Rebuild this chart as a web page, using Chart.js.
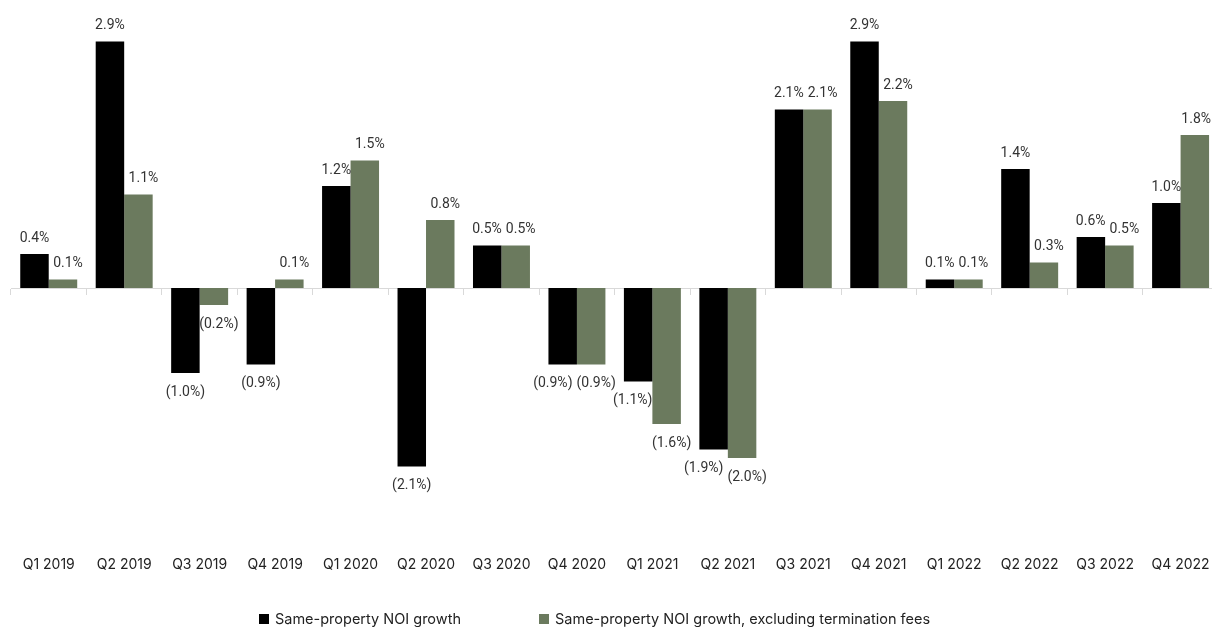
<!DOCTYPE html>
<html>
<head>
<meta charset="utf-8">
<script src="https://cdn.jsdelivr.net/npm/chart.js@4.4.1/dist/chart.umd.min.js"></script>
<style>
    html, body { margin: 0; padding: 0; background: #fff; overflow: hidden; }
    #wrap { position: relative; width: 1230px; height: 627px; }
    #legend {
        position: absolute; left: 0; top: 610px; width: 1189px;
        display: flex; justify-content: center; gap: 78px;
        font-family: Inter, sans-serif; font-size: 14.5px; color: #222;
    }
    #legend span.item { display: flex; align-items: center; }
    #legend i { display: inline-block; width: 10px; height: 10px; margin-right: 6px; }
</style>
</head>
<body>
<div id="wrap">
    <canvas id="chart"></canvas>
</div>
<div id="legend"></div>
<script>
const quarters = ["Q1 2019", "Q2 2019", "Q3 2019", "Q4 2019", "Q1 2020", "Q2 2020", "Q3 2020", "Q4 2020",
    "Q1 2021", "Q2 2021", "Q3 2021", "Q4 2021", "Q1 2022", "Q2 2022", "Q3 2022", "Q4 2022"];
const noiGrowth = [0.4, 2.9, -1.0, -0.9, 1.2, -2.1, 0.5, -0.9, -1.1, -1.9, 2.1, 2.9, 0.1, 1.4, 0.6, 1.0];
const noiGrowthExFees = [0.1, 1.1, -0.2, 0.1, 1.5, 0.8, 0.5, -0.9, -1.6, -2.0, 2.1, 2.2, 0.1, 0.3, 0.5, 1.8];
const seriesNames = ["Same-property NOI growth", "Same-property NOI growth, excluding termination fees"];
const seriesColors = ["#000000", "#6b7a5e"];

const chartCanvas = document.getElementById("chart");
const legendBox = document.getElementById("legend");
const visibleWidth = 1212;

function fmt(v) {
    return v < 0 ? `(${Math.abs(v).toFixed(1)}%)` : `${v.toFixed(1)}%`;
}

// value labels above / below each bar, negatives in parentheses
const barLabels = {
    id: "barLabels",
    afterDatasetsDraw(chart) {
        const ctx = chart.ctx;
        ctx.save();
        ctx.font = "14px Roboto, sans-serif";
        ctx.fillStyle = "#333";
        ctx.textAlign = "center";
        ctx.textBaseline = "middle";
        const black = chart.getDatasetMeta(0).data;
        const green = chart.getDatasetMeta(1).data;
        const a = chart.data.datasets[0].data;
        const b = chart.data.datasets[1].data;
        a.forEach((v, j) => {
            const bar1 = black[j], bar2 = green[j];
            const t1 = fmt(v), t2 = fmt(b[j]);
            const w1 = ctx.measureText(t1).width, w2 = ctx.measureText(t2).width;
            const y1 = v < 0 ? bar1.y + 19 : bar1.y - 16;
            const y2 = b[j] < 0 ? bar2.y + 19 : bar2.y - 16;
            let x1 = bar1.x;
            let x2 = Math.min(bar2.x + 5, visibleWidth - 1 - w2 / 2);
            // keep the black label off the green bar
            if (v < 0 && b[j] < 0 && bar2.y > y1 - 12) {
                x1 = Math.min(x1, bar2.x - bar2.width / 2 - w1 / 2);
            }
            // and off the green label
            if (Math.abs(y1 - y2) < 14 && x1 + w1 / 2 + 4 > x2 - w2 / 2) {
                x1 = x2 - w2 / 2 - 4 - w1 / 2;
            }
            ctx.fillText(t1, x1, y1);
            ctx.fillText(t2, x2, y2);
        });
        ctx.restore();
    }
};

new Chart(chartCanvas, {
    type: "bar",
    data: {
        labels: quarters,
        datasets: [
            { label: seriesNames[0], data: noiGrowth, backgroundColor: seriesColors[0] },
            { label: seriesNames[1], data: noiGrowthExFees, backgroundColor: seriesColors[1] },
        ],
    },
    options: {
        responsive: true,
        maintainAspectRatio: false,
        animation: false,
        layout: { padding: { left: 11, right: 11, top: 22, bottom: 34 } },
        datasets: { bar: { barPercentage: 1, categoryPercentage: 0.755 } },
        plugins: { legend: { display: false }, tooltip: { enabled: false } },
        scales: {
            x: {
                position: { y: 0 },
                offset: true,
                grid: { offset: true, drawOnChartArea: false, drawTicks: true, tickLength: 6, color: "#d9d9d9" },
                border: { color: "#d9d9d9" },
                ticks: { display: false },
            },
            x2: {
                type: "category",
                position: "bottom",
                offset: true,
                grid: { display: false, drawTicks: false },
                border: { display: false },
                ticks: { padding: 20, color: "#222", font: { family: "Inter", size: 14 } },
            },
            y: {
                display: false,
                min: -2.92,
                max: 3.13,
                grace: 0,
            },
        },
    },
    plugins: [barLabels],
});

seriesNames.forEach((name, i) => {
    const item = document.createElement("span");
    item.className = "item";
    item.innerHTML = `<i style="background:${seriesColors[i]}"></i>${name}`;
    legendBox.appendChild(item);
});
</script>
</body>
</html>
